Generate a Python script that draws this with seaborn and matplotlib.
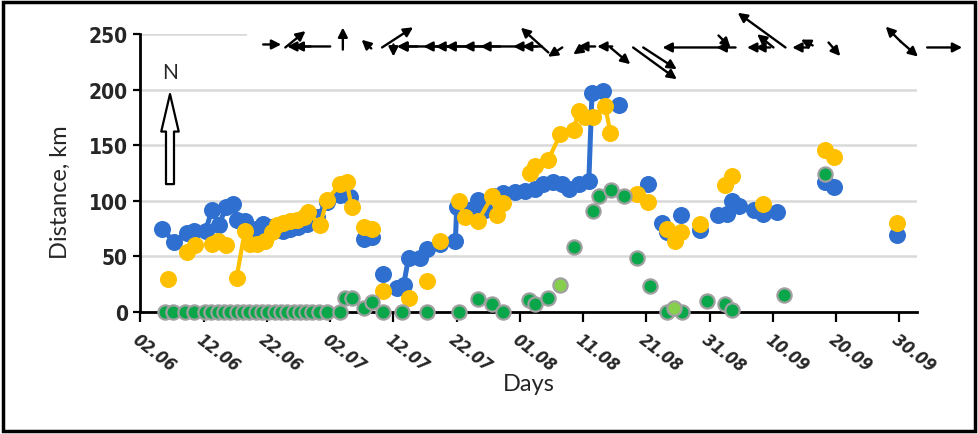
import numpy as np
import pandas as pd
import matplotlib
matplotlib.use("Agg")
import matplotlib.pyplot as plt
import seaborn as sns
from matplotlib.patches import Rectangle

# x = days counted from 02.06
tick_days = [0, 10, 20, 30, 40, 50, 60, 70, 80, 90, 100, 110, 120]
tick_labels = ["02.06", "12.06", "22.06", "02.07", "12.07", "22.07", "01.08",
               "11.08", "21.08", "31.08", "10.09", "20.09", "30.09"]
y_ticks = [0, 50, 100, 150, 200, 250]

# blue series (run = consecutive days joined by a line)
blue_day = [3.4, 5.3, 7.3, 8.4, 10.3, 11.3, 12.4, 13.5, 14.6, 15.2, 16.5, 18.3, 19.4, 20.6,
            21.6, 22.5, 23.7, 24.9, 26.3, 27.9, 29.5, 31.6, 33.1,
            35.3, 36.6,
            38.4,
            40.5, 41.6, 42.4, 44.2, 45.3, 47.4, 49.8, 50.0, 51.9, 53.4, 54.5, 55.8, 57.4,
            59.3, 60.8, 62.4, 63.7, 65.3, 66.6, 67.7, 69.3, 70.9, 71.4, 73.2,
            75.6, 80.3, 82.5, 83.3, 85.4, 88.5, 91.4, 92.8, 93.5, 94.6,
            97.0, 98.5, 100.7, 108.3, 109.6, 119.6]
blue_km = [75, 63, 71, 73, 73, 92, 78, 94, 97, 83, 82, 75, 79, 76,
           74, 73, 75, 76, 79, 85, 99, 105, 103,
           66, 67,
           34,
           22, 24, 49, 49, 57, 61, 64, 94, 92, 101, 92, 104, 107,
           108, 109, 111, 115, 117, 115, 111, 115, 118, 197, 199,
           186, 115, 80, 72, 87, 74, 87, 88, 100, 95,
           92, 88, 90, 117, 112, 69]
blue_run = [0] * 23 + [1] * 2 + [2] + [3] * 24 + [4, 5, 6, 6, 7, 8, 9, 9, 9, 9,
                                                  10, 10, 10, 11, 11, 12]

# yellow series
yellow_day = [4.4, 7.3, 8.6, 11.3, 12.3, 13.5,
              15.2, 16.5, 17.3, 18.4, 19.7, 20.8, 21.6, 22.6, 23.7, 24.8, 25.8, 26.5, 28.4,
              29.5, 31.6, 32.6, 33.4,
              35.3, 36.6, 38.4, 42.4, 45.3, 47.4,
              50.3, 51.3, 53.4, 55.6, 56.4, 57.4,
              61.6, 62.4, 64.5, 66.4, 68.5, 69.3, 70.3, 71.6, 73.5, 74.3,
              78.5, 80.3, 83.3, 84.6, 85.4, 88.5, 92.5, 93.5, 98.5, 108.3, 109.6, 119.6]
yellow_km = [30, 54, 60, 61, 64, 60,
             31, 73, 61, 61, 64, 72, 78, 80, 82, 83, 85, 90, 78,
             101, 115, 117, 94,
             76, 75, 19, 13, 28, 64,
             100, 85, 82, 104, 87, 98,
             125, 131, 137, 160, 164, 181, 175, 175, 185, 161,
             106, 99, 75, 64, 72, 79, 114, 122, 97, 146, 139, 80]
yellow_run = [0, 1, 1, 2, 2, 2] + [3] * 17 + [4, 4, 5, 6, 7, 8] + [9] * 6 + [10] * 10 + \
             [11, 11, 12, 12, 12, 13, 14, 14, 15, 16, 16, 17]

# green series
green_day = [3.9, 5.2, 7.0, 8.4, 10.2, 11.2, 12.2, 13.2, 14.2, 15.2, 16.2, 17.2, 18.2,
             19.2, 20.2, 21.2, 22.2, 23.2, 24.2, 25.2, 26.2, 27.2, 28.2, 29.5, 31.6,
             32.4, 33.4, 35.4, 36.6, 38.4, 41.3, 45.3, 50.3, 53.4, 55.6, 57.4,
             61.4, 62.4, 64.5, 68.5, 71.6, 72.5, 74.4, 76.5, 78.5, 80.5,
             83.3, 85.6, 89.6, 92.5, 93.5, 101.7, 108.3]
green_km = [0] * 25 + [13, 13, 4, 9, 0, 0, 0, 0, 12, 7, 0,
                       11, 7, 13, 58, 91, 104, 110, 104, 49, 23,
                       0, 0, 10, 7, 2, 15, 124]
pale_day = [66.4, 84.3]
pale_km = [24, 4]

# wind arrows on top: tail day, tail level, direction (deg), length (px)
wind_day = [19.4, 22.9, 30.0, 26.9, 32.0, 36.5, 38.2, 40.0,
            62.7, 43.8, 47.9, 49.8, 51.4, 54.2, 56.9, 62.1, 63.5,
            64.5, 66.7, 71.9, 74.6, 70.0, 74.3, 77.9, 79.5,
            92.2, 91.4, 94.1, 98.3, 99.6, 102.0, 100.1, 105.6, 106.3, 108.8,
            120.2, 120.2, 124.4]
wind_lvl = [240.6, 237.9, 238.8, 238.8, 236.0, 237.0, 237.9, 240.6,
            238.8, 238.8, 238.8, 238.8, 238.8, 238.8, 238.8, 238.8, 238.8,
            233.4, 237.9, 238.8, 238.8, 237.9, 237.9, 237.9, 237.9,
            237.9, 248.7, 237.9, 237.9, 237.9, 237.9, 237.9, 237.9, 239.7, 242.4,
            243.3, 243.3, 237.9]
wind_dir = [0, 39, 180, 180, 90, 138, 33, -90,
            180, 180, 180, 180, 180, 180, 180, 180, 180,
            138, -147, 180, 180, -145, -40, -36, -33,
            180, -45, 180, 180, 180, 144, 141, 180, 153, -49,
            135, -41, 0]
wind_len = [18, 26, 43, 17, 22, 13, 37, 12,
            140, 20, 20, 20, 20, 20, 20, 20, 20,
            37, 17, 17, 15, 12, 26, 54, 40,
            61, 17, 19, 15, 15, 59, 21, 16, 13, 18,
            21, 23, 35]

blue = "#2e6fcf"
yellow = "#ffc000"
green = "#0aa64a"
pale = "#86cf4c"

sns.set_style("white")
plt.rcParams["font.family"] = ["Lato", "DejaVu Sans"]
narrow = ["DejaVu Sans"]

fig = plt.figure(figsize=(9.79, 4.35), dpi=100)
ax = fig.add_axes([0.1435, 0.2805, 0.7932, 0.639])

blue_df = pd.DataFrame({"day": blue_day, "km": blue_km, "run": blue_run})
yellow_df = pd.DataFrame({"day": yellow_day, "km": yellow_km, "run": yellow_run})

sns.lineplot(data=blue_df, x="day", y="km", units="run", estimator=None, sort=False,
             color=blue, lw=3.6, ax=ax, zorder=3)
sns.scatterplot(x=blue_day, y=blue_km, color=blue, s=150, linewidth=0, ax=ax, zorder=4,
                clip_on=False)
sns.lineplot(data=yellow_df, x="day", y="km", units="run", estimator=None, sort=False,
             color=yellow, lw=3.0, ax=ax, zorder=5)
sns.scatterplot(x=yellow_day, y=yellow_km, color=yellow, s=150, linewidth=0, ax=ax,
                zorder=6, clip_on=False)
sns.scatterplot(x=green_day, y=green_km, color=green, s=105, edgecolor="#a0a0a0",
                linewidth=1.6, ax=ax, zorder=7, clip_on=False)
sns.scatterplot(x=pale_day, y=pale_km, color=pale, s=105, edgecolor="#a0a0a0",
                linewidth=1.6, ax=ax, zorder=7, clip_on=False)

ax.set_xlim(0, 122.8)
ax.set_ylim(0, 250)
ax.set_xticks(tick_days)
ax.set_xticklabels(tick_labels, rotation=-38, ha="left", va="top", rotation_mode="anchor",
                   fontweight="bold", fontstyle="italic", family=narrow,
                   fontstretch="condensed", fontsize=12.5)
ax.set_yticks(y_ticks)
ax.set_yticklabels(y_ticks, fontweight="bold", family=narrow, fontstretch="condensed",
                   fontsize=15)
ax.tick_params(axis="x", bottom=True, direction="out", length=7, width=1.6, pad=6,
               color="black")
ax.tick_params(axis="y", left=True, direction="out", length=5, width=1.6, pad=4,
               color="black")
ax.yaxis.grid(True, color="#d9d9d9", lw=1.8)
ax.xaxis.grid(False)
ax.set_axisbelow(True)
for s in ["top", "right"]:
    ax.spines[s].set_visible(False)
for s in ["left", "bottom"]:
    ax.spines[s].set_color("black")
    ax.spines[s].set_linewidth(2)

ax.set_xlabel("Days", fontsize=17)
ax.set_ylabel("Distance, km", fontsize=17)
ax.xaxis.set_label_coords(0.5, -0.22)
ax.yaxis.set_label_coords(-0.09, 0.435)

# white panel behind the wind arrows (hides top gridline)
ax.add_patch(Rectangle((0.137, 0.965), 0.9, 0.2, transform=ax.transAxes, fc="white",
                       ec="none", clip_on=False, zorder=1))

for d, lv, a, L in zip(wind_day, wind_lvl, wind_dir, wind_len):
    ax.annotate("", xy=(d, lv), xytext=(L * np.cos(np.radians(a)), L * np.sin(np.radians(a))),
                textcoords="offset pixels", annotation_clip=False, zorder=8,
                arrowprops=dict(arrowstyle="<|-,head_length=0.55,head_width=0.28",
                                color="black", lw=1.7, shrinkA=0, shrinkB=0))

# north arrow
ax.annotate("", xy=(0.038, 0.784), xytext=(0.038, 0.46), xycoords="axes fraction",
            arrowprops=dict(arrowstyle="simple,head_length=1.5,head_width=0.7,tail_width=0.32",
                            fc="white", ec="black", lw=1.6, shrinkA=0, shrinkB=0,
                            mutation_scale=18))
ax.text(0.038, 0.863, "N", transform=ax.transAxes, ha="center", va="center", fontsize=15)

fig.patches.append(Rectangle((3 / 979, 3 / 435), 972 / 979, 429 / 435,
                             transform=fig.transFigure, fill=False, ec="black", lw=2.5))

fig.savefig("out.png", dpi=100)
